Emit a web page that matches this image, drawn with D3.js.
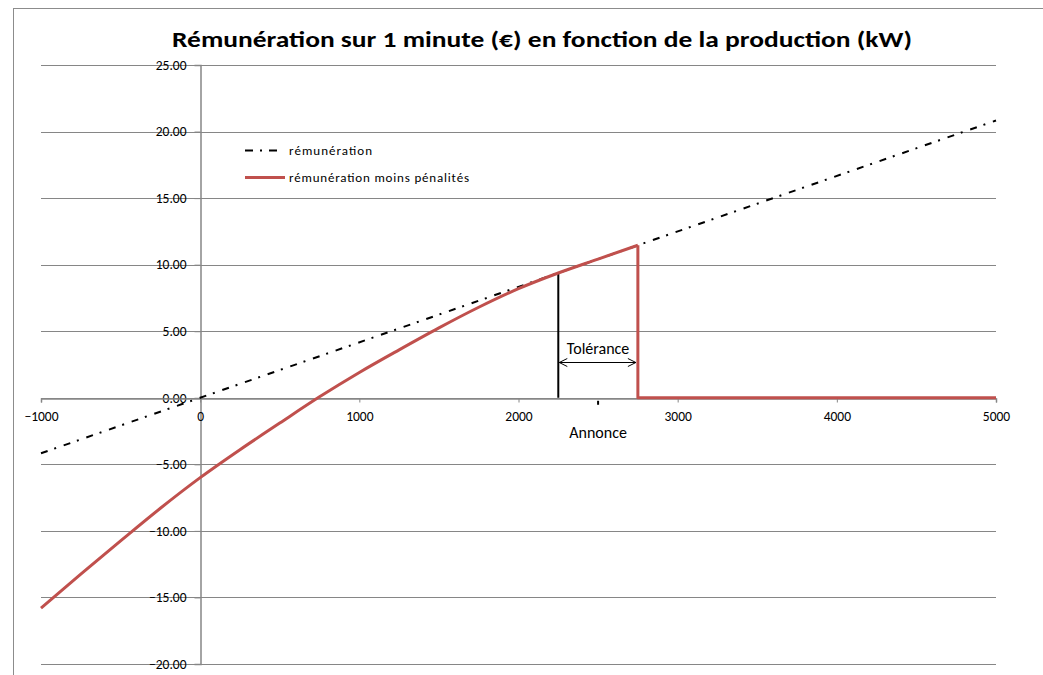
<!DOCTYPE html>
<html>
<head>
<meta charset="utf-8">
<script src="https://cdn.jsdelivr.net/npm/d3@7"></script>
<style>
  body { margin: 0; background: #fff; }
  text { font-family: Carlito, "Liberation Sans", Arial, sans-serif; }
</style>
</head>
<body>
<div id="chart"></div>
<script>
// production (kW) and remuneration (EUR over 1 minute)
var remunX = [-1000, 0, 5000];
var remunY = [-4.17, 0, 20.83];

// curved part up to the end of the tolerance band, then the drop to zero
var netX = [-1000, -750, -500, -250, 0, 250, 500, 750, 1000, 1250, 1500, 1750, 2000, 2250, 2500, 2750];
var netY = [-15.8, -13.25, -10.75, -8.3, -6.0, -3.9, -1.9, 0.07, 1.9, 3.6, 5.25, 6.8, 8.2, 9.375, 10.42, 11.46];
var dropX = [2750, 2750, 5000];
var dropY = [11.46, 0, 0];

var xTicks = [-1000, 0, 1000, 2000, 3000, 4000, 5000];
var yTicks = [-20, -15, -10, -5, 0, 5, 10, 15, 20, 25];

var annonce = 2500;
var tolLow = 2250, tolHigh = 2750;

var legendNames = ["rémunération", "rémunération moins pénalités"];

var chart = {};
chart.width = 1043;
chart.height = 675;

chart.init = function() {
    chart.svg = d3.select("#chart").append("svg")
        .attr("width", chart.width)
        .attr("height", chart.height);

    // outer frame of the chart area
    chart.svg.append("rect")
        .attr("x", 13.5).attr("y", 8.5)
        .attr("width", 1100).attr("height", 800)
        .attr("fill", "none")
        .attr("stroke", "#8c8c8c");

    chart.x = d3.scaleLinear().domain([-1000, 5000]).range([41, 996]);
    chart.y = d3.scaleLinear().domain([-20, 25]).range([664, 65]);
};

chart.render = function() {
    var svg = chart.svg, x = chart.x, y = chart.y;
    var grid = "#868686";
    var font = "Carlito, 'Liberation Sans', Arial, sans-serif";

    svg.append("text")
        .attr("x", 542).attr("y", 47)
        .attr("text-anchor", "middle")
        .attr("font-size", 23).attr("font-weight", "bold")
        .attr("textLength", 740).attr("lengthAdjust", "spacingAndGlyphs")
        .text("Rémunération sur 1 minute (€) en fonction de la production (kW)");

    // horizontal gridlines
    svg.append("g").selectAll("line")
        .data(yTicks)
        .enter().append("line")
        .attr("x1", x(-1000)).attr("x2", x(5000))
        .attr("y1", function(d) { return Math.round(y(d)) + 0.5; })
        .attr("y2", function(d) { return Math.round(y(d)) + 0.5; })
        .attr("stroke", grid).attr("stroke-width", 1.2);

    // y axis on x = 0
    var yAxis = d3.axisLeft(y).tickValues(yTicks).tickSize(6).tickFormat(d3.format(".2f"));
    var gy = svg.append("g")
        .attr("transform", "translate(" + (Math.round(x(0)) + 0.5) + ",0)")
        .call(yAxis);
    gy.attr("font-size", 13.5).attr("font-family", font);
    gy.select(".domain").attr("stroke", grid).attr("stroke-width", 1.5);
    gy.selectAll(".tick line").attr("stroke", grid);
    gy.selectAll(".tick text")
        .attr("x", -14)
        .attr("fill", "#000");

    // x axis on y = 0
    var xAxis = d3.axisBottom(x).tickValues(xTicks).tickSize(4).tickFormat(d3.format("d"));
    var gx = svg.append("g")
        .attr("transform", "translate(0," + (Math.round(y(0)) + 0.5) + ")")
        .call(xAxis);
    gx.attr("font-size", 13.5).attr("font-family", font);
    gx.select(".domain").attr("stroke", grid).attr("stroke-width", 1.5);
    gx.selectAll(".tick line").attr("stroke", grid);
    gx.selectAll(".tick text")
        .attr("y", 13)
        .attr("fill", "#000");

    var line = d3.line()
        .x(function(d) { return x(d[0]); })
        .y(function(d) { return y(d[1]); });
    var curve = d3.line()
        .curve(d3.curveMonotoneX)
        .x(function(d) { return x(d[0]); })
        .y(function(d) { return y(d[1]); });

    // tolerance marker (vertical line up to the curve)
    svg.append("line")
        .attr("x1", x(tolLow)).attr("x2", x(tolLow))
        .attr("y1", y(0)).attr("y2", y(netY[netX.indexOf(tolLow)]))
        .attr("stroke", "#000").attr("stroke-width", 2);

    // annonce tick
    svg.append("line")
        .attr("x1", x(annonce)).attr("x2", x(annonce))
        .attr("y1", y(0) + 3).attr("y2", y(0) + 7)
        .attr("stroke", "#000").attr("stroke-width", 2);

    svg.append("text")
        .attr("x", x(annonce)).attr("y", y(0) + 40)
        .attr("text-anchor", "middle")
        .attr("font-size", 16)
        .text("Annonce");

    // double arrow
    var ay = 362.5, ax1 = x(tolLow) + 1, ax2 = x(tolHigh) - 2;
    svg.append("line")
        .attr("x1", ax1).attr("x2", ax2)
        .attr("y1", ay).attr("y2", ay)
        .attr("stroke", "#000").attr("stroke-width", 1);
    svg.append("path")
        .attr("d", "M" + (ax1 + 8) + "," + (ay - 4) + "L" + ax1 + "," + ay + "L" + (ax1 + 8) + "," + (ay + 4) +
                   "M" + (ax2 - 8) + "," + (ay - 4) + "L" + ax2 + "," + ay + "L" + (ax2 - 8) + "," + (ay + 4))
        .attr("fill", "none").attr("stroke", "#000").attr("stroke-width", 1);

    svg.append("text")
        .attr("x", (x(tolLow) + x(tolHigh)) / 2).attr("y", 354)
        .attr("text-anchor", "middle")
        .attr("font-size", 16)
        .text("Tolérance");

    // rémunération (dash-dot)
    svg.append("path")
        .datum(d3.zip(remunX, remunY))
        .attr("d", line)
        .attr("fill", "none")
        .attr("stroke", "#000")
        .attr("stroke-width", 2)
        .attr("stroke-dasharray", "7,7,2,8");

    // rémunération moins pénalités
    svg.append("path")
        .datum(d3.zip(netX, netY))
        .attr("d", curve)
        .attr("fill", "none")
        .attr("stroke", "#c0504d")
        .attr("stroke-width", 3);
    svg.append("path")
        .datum(d3.zip(dropX, dropY))
        .attr("d", line)
        .attr("fill", "none")
        .attr("stroke", "#c0504d")
        .attr("stroke-width", 3)
        .attr("stroke-linejoin", "round");

    // legend
    var legend = svg.append("g").attr("transform", "translate(245,150)");
    var styles = [
        { stroke: "#000", width: 2, dash: "8,7,2,7", len: 33, tl: 83 },
        { stroke: "#c0504d", width: 3, dash: null, len: 40, tl: 180 }
    ];
    legendNames.forEach(function(name, i) {
        var row = legend.append("g").attr("transform", "translate(0," + (i * 27) + ")");
        row.append("line")
            .attr("x1", 0).attr("x2", styles[i].len)
            .attr("y1", 0.5).attr("y2", 0.5)
            .attr("stroke", styles[i].stroke)
            .attr("stroke-width", styles[i].width)
            .attr("stroke-dasharray", styles[i].dash);
        row.append("text")
            .attr("x", 44).attr("y", 4.5)
            .attr("font-size", 13)
            .attr("textLength", styles[i].tl)
            .attr("lengthAdjust", "spacing")
            .text(name);
    });
};

chart.init();
chart.render();
</script>
</body>
</html>
